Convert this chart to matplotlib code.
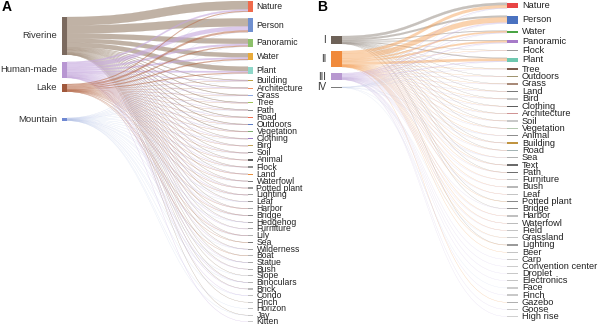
import matplotlib.pyplot as plt
from matplotlib.path import Path
from matplotlib.patches import PathPatch, Rectangle
import numpy as np

plt.rcParams['font.family'] = ['Liberation Sans', 'DejaVu Sans']

# ---------------- panel A data ----------------
a_sources = ["Riverine", "Human-made", "Lake", "Mountain"]
a_targets = ["Nature", "Person", "Panoramic", "Water", "Plant", "Building",
             "Architecture", "Grass", "Tree", "Path", "Road", "Outdoors",
             "Vegetation", "Clothing", "Bird", "Soil", "Animal", "Flock", "Land",
             "Waterfowl", "Potted plant", "Lighting", "Leaf", "Harbor", "Bridge",
             "Hedgehog", "Furniture", "Lily", "Sea", "Wilderness", "Boat", "Statue",
             "Bush", "Slope", "Binoculars", "Brick", "Condo", "Finch", "Horizon",
             "Jay", "Kitten"]
a_riverine = [85, 80, 50, 42, 45, 5, 4, 5, 5, 4, 4, 4, 4, 3, 3, 3, 3, 3, 2, 2, 1,
              1, 2, 2, 2, 1, 1, 1, 2, 1, 1, 1, 1, 1, 1, 1, 0, 1, 0, 1, 0]
a_human = [15, 40, 18, 16, 15, 4, 4, 3, 3, 3, 3, 2, 2, 3, 2, 2, 2, 2, 2, 2, 3,
           2, 1, 1, 1, 1, 2, 1, 0, 1, 0, 1, 1, 0, 1, 1, 1, 0, 0, 0, 1]
a_lake = [8, 18, 10, 10, 8, 2, 1, 1, 1, 1, 1, 1, 1, 1, 1, 1, 1, 1, 2, 1, 1,
          1, 0, 1, 1, 0, 0, 1, 1, 0, 1, 0, 0, 0, 0, 0, 0, 0, 0, 0, 0]
a_mountain = [2, 2, 2, 2, 2, 1, 0, 1, 0, 1, 0, 1, 0, 1, 0, 1, 0, 1, 0, 1, 0,
              1, 1, 0, 1, 1, 0, 1, 0, 1, 0, 1, 0, 1, 1, 0, 1, 0, 1, 1, 0]

a_source_colors = ["#7b6a5f", "#b896d2", "#a0583c", "#6f88d2"]
a_link_colors = ["#a89482", "#c6a8de", "#b86a48", "#9fb2e6"]
a_link_alpha = [0.72, 0.6, 0.55, 0.3]
a_target_colors = ["#f06a4c", "#7090d0", "#8cc06a", "#e8aa3a", "#8ed6c8", "#bca040",
                   "#f09060", "#8ea8e0", "#a0c25a", "#909090", "#f07050", "#5c7cc4",
                   "#7cae70", "#9a7ac4", "#c0a058", "#7c7c7c", "#5e5e5e", "#8c8c8c",
                   "#e89040", "#7a7a7a", "#9a9a9a", "#a0a0a0", "#909090", "#a8a8a8",
                   "#8a8a8a", "#9c9c9c", "#a4a4a4", "#b0b0b0", "#7a7a7a", "#a0a0a0",
                   "#b4b4b4", "#a8a8a8", "#b0b0b0", "#b8b8b8", "#b4b4b4", "#bcbcbc",
                   "#c0c0c0", "#c4c4c4", "#c0c0c0", "#c8c8c8", "#c8c8c8"]

# ---------------- panel B data ----------------
b_sources = ["I", "II", "III", "IV"]
b_targets = ["Nature", "Person", "Water", "Panoramic", "Flock", "Plant", "Tree",
             "Outdoors", "Grass", "Land", "Bird", "Clothing", "Architecture", "Soil",
             "Vegetation", "Animal", "Building", "Road", "Sea", "Text", "Path",
             "Furniture", "Bush", "Leaf", "Potted plant", "Bridge", "Harbor",
             "Waterfowl", "Field", "Grassland", "Lighting", "Beer", "Carp",
             "Convention center", "Droplet", "Electronics", "Face", "Finch",
             "Gazebo", "Goose", "High rise"]
b_i = [25, 18, 6, 6, 1, 8, 1, 1, 1, 1, 1, 1, 1, 1, 1, 0, 1, 1, 0, 1, 1,
       0, 0, 0, 1, 1, 0, 0, 0, 0, 1, 0, 0, 0, 0, 0, 0, 0, 0, 0, 0]
b_ii = [28, 50, 14, 16, 2, 24, 2, 1, 1, 1, 1, 1, 1, 1, 1, 1, 1, 1, 1, 1, 1,
        1, 1, 1, 1, 0, 1, 1, 1, 1, 1, 1, 0, 0, 0, 0, 0, 0, 1, 0, 0]
b_iii = [4, 10, 4, 7, 2, 7, 2, 2, 2, 2, 2, 1, 1, 1, 1, 1, 1, 1, 1, 1, 1,
         1, 1, 1, 0, 1, 1, 1, 1, 0, 0, 0, 1, 1, 1, 1, 0, 1, 0, 1, 1]
b_iv = [1, 2, 1, 1, 0, 1, 0, 0, 0, 0, 0, 0, 0, 0, 0, 1, 0, 0, 1, 0, 0,
        0, 0, 0, 0, 0, 0, 0, 0, 1, 0, 0, 0, 0, 0, 0, 1, 0, 0, 0, 0]

b_source_colors = ["#6e6258", "#f08a3c", "#b898d0", "#7a7a7a"]
b_link_colors = ["#a39a92", "#f7a65e", "#c4aae2", "#b4c4ea"]
b_link_alpha = [0.6, 0.5, 0.35, 0.3]
b_target_colors = ["#e84444", "#4a72c0", "#4aa444", "#a67ac8", "#9a9a9a", "#6ec8b0",
                   "#7e5e50", "#a09470", "#a88a78", "#7a7a7a", "#c4c4c4", "#5e5e5e",
                   "#d09494", "#c8c8c8", "#b4c8b0", "#8e8e8e", "#c09440", "#a4b4b4",
                   "#b0b0b0", "#6a6a6a", "#6e6e6e", "#c0c0c0", "#b8b8b8", "#c4c4c4",
                   "#8a8a8a", "#8e8e8e", "#c0c0c0", "#bcbcbc", "#c4c4c4", "#c8c8c8",
                   "#9a9a9a", "#c4c4c4", "#c8c8c8", "#cccccc", "#c8c8c8", "#c4c4c4",
                   "#cccccc", "#c8c8c8", "#b0b0b0", "#c8c8c8", "#d0d0d0"]


def band(x0, x1, y0, y1, h):
    xm = (x0 + x1) / 2
    verts = [(x0, y0), (xm, y0), (xm, y1), (x1, y1),
             (x1, y1 + h), (xm, y1 + h), (xm, y0 + h), (x0, y0 + h), (x0, y0)]
    codes = [Path.MOVETO, Path.CURVE4, Path.CURVE4, Path.CURVE4,
             Path.LINETO, Path.CURVE4, Path.CURVE4, Path.CURVE4, Path.CLOSEPOLY]
    return Path(verts, codes)


def draw_sankey(ax, sources, targets, flows, src_colors, link_colors, link_alpha,
                tgt_colors, scale, left_gaps, right_top, right_gap,
                xl, wl, xr, wr, min_h, left_fs, right_fs):
    flows = np.array(flows, dtype=float)
    src_h = flows.sum(axis=1) * scale
    tgt_h = flows.sum(axis=0) * scale

    src_top = []
    y = 0
    for g, h in zip(left_gaps, src_h):
        y += g
        src_top.append(y)
        y += h
    tgt_top = []
    y = right_top
    for h in tgt_h:
        tgt_top.append(y)
        y += h + right_gap

    # links, thin ones a bit fainter
    tgt_off = list(tgt_top)
    for i in range(len(sources)):
        s_off = src_top[i]
        for j in range(len(targets)):
            v = flows[i, j] * scale
            if v <= 0:
                continue
            a = link_alpha[i] if v > 0.35 else link_alpha[i] * 0.7
            p = band(xl + wl, xr, s_off, tgt_off[j], v)
            ax.add_patch(PathPatch(p, facecolor=link_colors[i], edgecolor=link_colors[i],
                                   lw=0.15, alpha=a))
            s_off += v
            tgt_off[j] += v

    # nodes
    for i, name in enumerate(sources):
        h = max(src_h[i], min_h)
        c = src_top[i] + src_h[i] / 2
        ax.add_patch(Rectangle((xl, c - h / 2), wl, h, color=src_colors[i], lw=0))
        ax.text(xl - 5, c, name, ha='right', va='center', fontsize=left_fs, color='#333333')
    for j, name in enumerate(targets):
        h = max(tgt_h[j], min_h)
        c = tgt_top[j] + tgt_h[j] / 2
        ax.add_patch(Rectangle((xr, c - h / 2), wr, h, color=tgt_colors[j], lw=0))
        ax.text(xr + wr + 4, c, name, ha='left', va='center', fontsize=right_fs,
                color='#222222')


fig = plt.figure(figsize=(6, 3.25), dpi=100)
ax = fig.add_axes([0, 0, 1, 1])
ax.set_xlim(0, 600)
ax.set_ylim(325, 0)
ax.axis('off')

a_flows = [a_riverine, a_human, a_lake, a_mountain]
draw_sankey(ax, a_sources, a_targets, a_flows, a_source_colors, a_link_colors,
            a_link_alpha, a_target_colors, scale=0.1, left_gaps=[17, 7, 6, 26],
            right_top=1, right_gap=6.4, xl=62, wl=5, xr=248, wr=4.5, min_h=1.1,
            left_fs=6.8, right_fs=6.2)

b_flows = [b_i, b_ii, b_iii, b_iv]
draw_sankey(ax, b_sources, b_targets, b_flows, b_source_colors, b_link_colors,
            b_link_alpha, b_target_colors, scale=0.1, left_gaps=[36, 7, 6, 7],
            right_top=2.7, right_gap=7.05, xl=331, wl=11, xr=507, wr=11, min_h=1.3,
            left_fs=7.0, right_fs=6.7)

ax.text(2, 7, "A", fontsize=10, fontweight='bold', va='center', ha='left')
ax.text(317, 7, "B", fontsize=10, fontweight='bold', va='center', ha='left')

fig.savefig("out.png", dpi=100)
